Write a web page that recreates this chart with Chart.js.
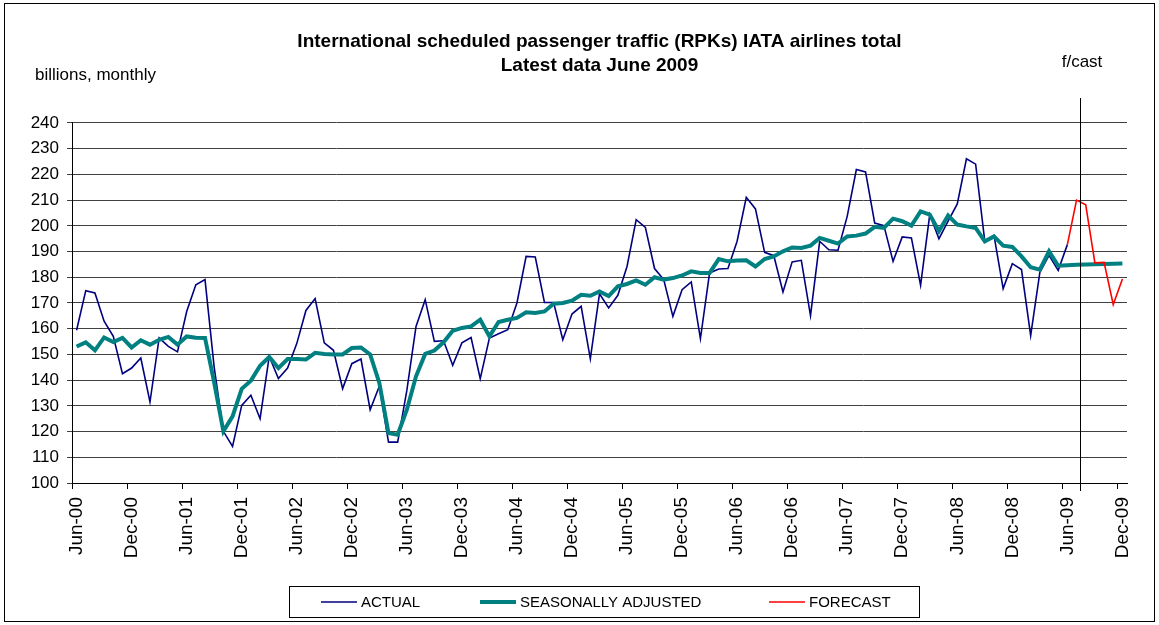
<!DOCTYPE html>
<html>
<head>
<meta charset="utf-8">
<title>International scheduled passenger traffic</title>
<script src="https://cdn.jsdelivr.net/npm/chart.js@4.4.1/dist/chart.umd.min.js"></script>
<style>
  html, body { margin: 0; padding: 0; background: #fff; }
  canvas { display: block; }
</style>
</head>
<body>
<canvas id="rpkChart" width="1159" height="625"></canvas>
<script>
// monthly categories Jun-00 .. Dec-09
const monthNames = ["Jan", "Feb", "Mar", "Apr", "May", "Jun", "Jul", "Aug", "Sep", "Oct", "Nov", "Dec"];
const months = [];
for (let y = 2000; y <= 2009; y++) {
  for (let m = 0; m < 12; m++) {
    if (y === 2000 && m < 5) continue;
    months.push(monthNames[m] + "-" + String(y).slice(2));
  }
}

const yTicks = [100, 110, 120, 130, 140, 150, 160, 170, 180, 190, 200, 210, 220, 230, 240];

// actual, Jun-00 .. Jun-09
const actual = [
  159.4, 174.8, 173.9, 162.9, 157.0, 142.5, 144.7, 148.6, 131.5, 156.4, 153.1, 151.0,
  166.7, 177.1, 179.1, 145.0, 120.1, 114.2, 130.2, 134.1, 125.0, 149.2, 140.6, 144.7,
  154.2, 167.1, 171.7, 154.5, 151.6, 136.7, 146.4, 148.2, 128.5, 137.6, 115.9, 115.9,
  136.0, 160.9, 171.3, 155.1, 155.3, 145.8, 154.5, 156.6, 140.6, 156.4, 158.0, 159.6,
  170.0, 188.1, 187.9, 170.2, 170.2, 155.7, 165.7, 168.7, 148.3, 173.6, 168.1, 173.0,
  184.2, 202.4, 199.4, 183.4, 179.1, 164.8, 175.2, 178.2, 156.1, 181.7, 183.2, 183.4,
  194.0, 211.1, 206.6, 189.7, 188.4, 174.3, 186.0, 186.6, 165.1, 194.0, 190.7, 190.5,
  203.7, 221.9, 221.0, 201.1, 200.1, 186.2, 195.7, 195.3, 176.9, 204.4, 195.0, 201.8,
  208.5, 226.1, 224.0, 194.0, 196.3, 175.6, 185.3, 183.0, 157.3, 181.9, 188.5, 182.7,
  192.7
];

// seasonally adjusted, Jun-00 .. Dec-09
const seasonal = [
  153.1, 154.7, 151.6, 156.6, 154.8, 156.4, 152.7, 155.5, 153.8, 155.7, 156.8, 153.8,
  157.0, 156.5, 156.4, 139.0, 120.1, 125.9, 136.6, 139.8, 145.6, 149.0, 144.7, 148.2,
  148.2, 148.0, 150.6, 150.2, 150.0, 150.0, 152.5, 152.7, 150.0, 138.9, 119.4, 118.8,
  128.5, 141.5, 150.2, 151.5, 154.7, 159.2, 160.3, 160.9, 163.5, 157.0, 162.6, 163.5,
  164.2, 166.4, 166.1, 166.7, 169.7, 170.0, 170.9, 173.2, 172.8, 174.5, 172.7, 176.5,
  177.4, 178.8, 177.1, 180.0, 179.1, 179.7, 180.7, 182.3, 181.7, 181.7, 187.1, 186.2,
  186.5, 186.6, 184.2, 187.1, 188.1, 190.1, 191.6, 191.4, 192.3, 195.3, 194.2, 193.1,
  195.9, 196.2, 197.0, 199.6, 199.2, 202.8, 201.8, 200.1, 205.6, 204.4, 197.9, 204.0,
  200.5, 199.8, 199.2, 194.0, 195.9, 192.3, 191.8, 188.1, 183.9, 183.0, 190.1, 184.5,
  184.7, 184.9, 185.0, 185.1, 185.2, 185.3, 185.4
];

// forecast, Jun-09 .. Dec-09
const forecastStart = 108;
const forecastValues = [192.7, 210.0, 208.2, 185.6, 185.8, 169.4, 179.3];
const forecast = months.map((m, i) => (i >= forecastStart ? forecastValues[i - forecastStart] : null));

const FONT = "'Liberation Sans', Arial, sans-serif";

const extras = {
  id: "extras",
  beforeDraw(chart) {
    const ctx = chart.ctx;
    ctx.save();
    ctx.fillStyle = "#fff";
    ctx.fillRect(0, 0, chart.width, chart.height);
    ctx.strokeStyle = "#000";
    ctx.lineWidth = 1;
    ctx.strokeRect(4.5, 3.5, 1150, 618);
    ctx.restore();
  },
  afterDraw(chart) {
    const ctx = chart.ctx;
    const xs = chart.scales.x;
    ctx.save();
    ctx.fillStyle = "#000";
    ctx.font = "17px " + FONT;
    ctx.textBaseline = "middle";
    ctx.textAlign = "left";
    ctx.fillText("billions, monthly", 35, 75);
    ctx.textAlign = "center";
    ctx.fillText("f/cast", 1082, 62);

    // forecast divider
    const fx = Math.round(xs.getPixelForValue(109.4)) + 0.5;
    ctx.strokeStyle = "#000";
    ctx.lineWidth = 1;
    ctx.beginPath();
    ctx.moveTo(fx, 98);
    ctx.lineTo(fx, 491);
    ctx.stroke();

    // legend
    ctx.strokeStyle = "#000";
    ctx.strokeRect(289.5, 586.5, 630, 31);
    const itemX = [321, 480, 769];
    ctx.font = "15px " + FONT;
    ctx.textAlign = "left";
    chart.data.datasets.forEach((ds, i) => {
      ctx.strokeStyle = ds.borderColor;
      ctx.lineWidth = ds.borderWidth;
      ctx.beginPath();
      ctx.moveTo(itemX[i], 602);
      ctx.lineTo(itemX[i] + 36, 602);
      ctx.stroke();
      ctx.fillStyle = "#000";
      ctx.fillText(ds.label, itemX[i] + 40, 603);
    });
    ctx.restore();
  },
};

new Chart(document.getElementById("rpkChart"), {
  type: "line",
  data: {
    labels: months,
    datasets: [
      {
        label: "ACTUAL",
        data: actual,
        borderColor: "#000080",
        borderWidth: 1.6,
        order: 3,
      },
      {
        label: "SEASONALLY ADJUSTED",
        data: seasonal,
        borderColor: "#008080",
        borderWidth: 4,
        order: 2,
      },
      {
        label: "FORECAST",
        data: forecast,
        borderColor: "#ff0000",
        borderWidth: 1.6,
        order: 1,
      },
    ],
  },
  options: {
    responsive: false,
    devicePixelRatio: 1,
    animation: false,
    layout: { padding: { left: 0, top: 0, right: 32, bottom: 42 } },
    elements: {
      point: { radius: 0 },
      line: { tension: 0, fill: false },
    },
    scales: {
      x: {
        offset: true,
        afterFit: (s) => { s.height = 100; },
        border: { display: true, color: "#000", width: 1 },
        grid: {
          offset: true,
          drawOnChartArea: false,
          tickLength: 6,
          color: (c) => (c.index % 6 === 0 ? "#000" : "rgba(0,0,0,0)"),
        },
        ticks: {
          autoSkip: false,
          minRotation: 90,
          maxRotation: 90,
          padding: 8,
          color: "#000",
          font: { family: FONT, size: 19 },
          callback: (v, i) => (i % 6 === 0 ? months[i] : ""),
        },
      },
      y: {
        min: yTicks[0],
        max: yTicks[yTicks.length - 1],
        afterFit: (s) => { s.width = 72; },
        afterBuildTicks: (s) => { s.ticks = yTicks.map((v) => ({ value: v })); },
        border: { display: true, color: "#000", width: 1 },
        grid: { color: "#404040", lineWidth: 1, tickLength: 5 },
        ticks: {
          padding: 8,
          color: "#000",
          font: { family: FONT, size: 17 },
        },
      },
    },
    plugins: {
      legend: { display: false },
      tooltip: { enabled: false },
      title: {
        display: true,
        fullSize: false,
        text: [
          "International scheduled passenger traffic (RPKs) IATA airlines total",
          "Latest data June 2009",
        ],
        color: "#000",
        font: { family: FONT, size: 19, weight: "bold", lineHeight: 1.263 },
        padding: { top: 30, bottom: 45 },
      },
    },
  },
  plugins: [extras],
});
</script>
</body>
</html>
